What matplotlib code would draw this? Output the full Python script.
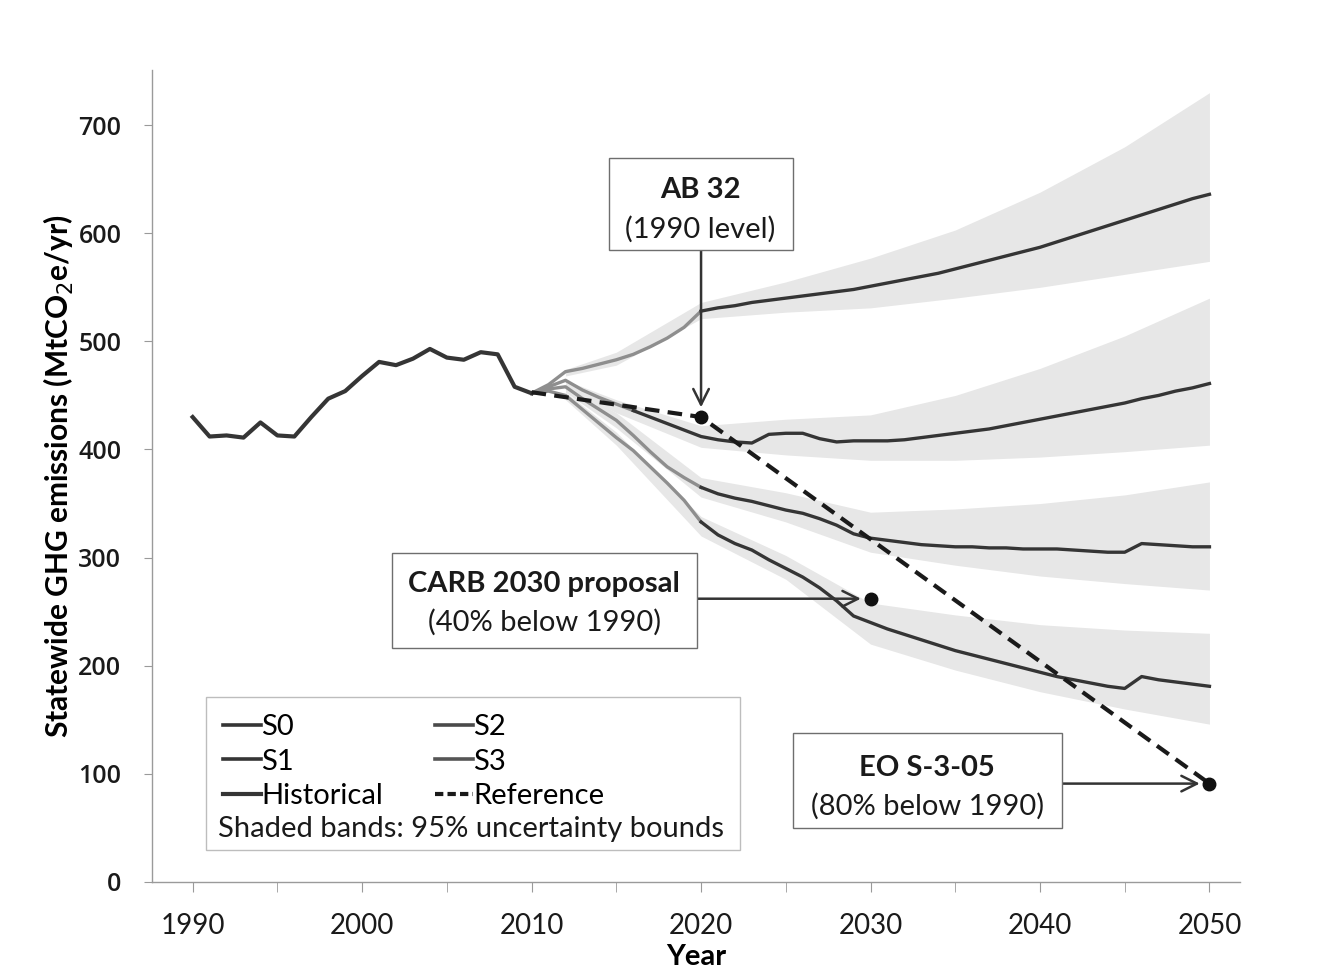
import matplotlib
matplotlib.use("Agg")
import matplotlib.pyplot as plt
from matplotlib.patches import Rectangle
from matplotlib.lines import Line2D

plt.rcParams["font.family"] = ["Lato", "DejaVu Sans"]

# historical emissions, MtCO2e/yr
hist_years = list(range(1990, 2011))
hist_vals = [430, 412, 413, 411, 425, 413, 412, 430, 447, 454, 468,
             481, 478, 484, 493, 485, 483, 490, 488, 458, 452]

# scenario projections
proj_years = list(range(2010, 2051))
s0 = [452, 460, 472, 475, 479, 483, 488, 495, 503, 513, 528,
      531, 533, 536, 538, 540, 542, 544, 546, 548, 551,
      554, 557, 560, 563, 567, 571, 575, 579, 583, 587,
      592, 597, 602, 607, 612, 617, 622, 627, 632, 636]
s1 = [452, 458, 464, 455, 448, 442, 436, 430, 424, 418, 412,
      409, 407, 406, 414, 415, 415, 410, 407, 408, 408,
      408, 409, 411, 413, 415, 417, 419, 422, 425, 428,
      431, 434, 437, 440, 443, 447, 450, 454, 457, 461]
s2 = [452, 456, 458, 447, 437, 427, 413, 398, 384, 374, 365,
      359, 355, 352, 348, 344, 341, 336, 330, 322, 318,
      316, 314, 312, 311, 310, 310, 309, 309, 308, 308,
      308, 307, 306, 305, 305, 313, 312, 311, 310, 310]
s3 = [452, 454, 450, 437, 424, 411, 399, 384, 369, 353, 333,
      321, 313, 307, 298, 290, 282, 272, 260, 246, 240,
      234, 229, 224, 219, 214, 210, 206, 202, 198, 194,
      190, 187, 184, 181, 179, 190, 187, 185, 183, 181]

# 95% uncertainty bounds
band_years = [2012, 2015, 2020, 2025, 2030, 2035, 2040, 2045, 2050]
s0_lo = [468, 478, 521, 527, 531, 540, 550, 562, 574]
s0_hi = [474, 490, 536, 555, 577, 603, 638, 680, 730]
s1_lo = [458, 434, 402, 395, 390, 390, 393, 398, 404]
s1_hi = [464, 446, 422, 428, 432, 450, 475, 505, 540]
s2_lo = [453, 420, 356, 333, 305, 293, 283, 276, 270]
s2_hi = [460, 434, 374, 360, 342, 345, 350, 358, 370]
s3_lo = [446, 404, 320, 280, 220, 196, 176, 160, 146]
s3_hi = [453, 416, 338, 302, 258, 247, 238, 233, 230]

# reference path and policy targets
ref_years = [2010, 2020, 2050]
ref_vals = [453, 430, 91]
target_years = [2020, 2030, 2050]
target_vals = [430, 262, 91]

DARK = "#353535"
LIGHT = "#8e8e8e"
BAND = "#e7e7e7"
FS = 21

fig = plt.figure(figsize=(13.17, 9.72), dpi=100)
ax = fig.add_axes([0.1154, 0.0926, 0.8261, 0.8354])

for lo, hi in [(s0_lo, s0_hi), (s1_lo, s1_hi), (s2_lo, s2_hi), (s3_lo, s3_hi)]:
    ax.fill_between(band_years, lo, hi, color=BAND, lw=0, zorder=1)

# early part of each scenario is lighter in the original
for vals, split in [(s0, 2020), (s1, 2016), (s2, 2020), (s3, 2020)]:
    i = proj_years.index(split)
    ax.plot(proj_years[:i + 1], vals[:i + 1], color=LIGHT, lw=2.4, zorder=3)
    ax.plot(proj_years[i:], vals[i:], color=DARK, lw=2.4, zorder=3)

ax.plot(hist_years, hist_vals, color=DARK, lw=3.0, zorder=4)
ax.plot(ref_years, ref_vals, color="#1a1a1a", lw=3.0, ls=(0, (3.5, 2)), zorder=5)
ax.plot(target_years, target_vals, "o", color="#111111", ms=9, zorder=6)

ax.set_xlim(1987.6, 2051.8)
ax.set_ylim(0, 751)
ax.set_xticks(range(1990, 2051, 10))
ax.set_xticks(range(1990, 2051, 5), minor=True)
ax.set_yticks(range(0, 701, 100))
for s in ["top", "right"]:
    ax.spines[s].set_visible(False)
for s in ["left", "bottom"]:
    ax.spines[s].set_color("#9a9a9a")
    ax.spines[s].set_linewidth(1.0)
ax.tick_params(axis="x", which="both", length=7, color="#9a9a9a", pad=15,
               labelsize=20, labelcolor="#1a1a1a")
ax.tick_params(axis="y", length=6, color="#9a9a9a", pad=16, labelsize=18,
               labelcolor="#1a1a1a")
for lab in ax.get_yticklabels():
    lab.set_family(["Open Sans", "DejaVu Sans"])
    lab.set_fontweight("semibold")
ax.set_xlabel("Year", fontsize=FS, fontweight="bold", labelpad=4)
ax.set_ylabel("Statewide GHG emissions (MtCO$_2$e/yr)", fontsize=21.5,
              fontweight="bold", labelpad=2)


def note_box(x0, x1, y0, y1, title, sub, y_title, y_sub):
    ax.add_patch(Rectangle((x0, y0), x1 - x0, y1 - y0, fill=True, fc="white",
                           ec="#6e6e6e", lw=1.0, zorder=7))
    xc = (x0 + x1) / 2
    ax.text(xc, y_title, title, ha="center", va="center", fontsize=FS,
            fontweight="bold", color="#1a1a1a", zorder=8)
    ax.text(xc, y_sub, sub, ha="center", va="center", fontsize=FS,
            color="#1a1a1a", zorder=8)


arrow = dict(arrowstyle="->", color="#333333", lw=1.8, mutation_scale=28,
             shrinkA=0, shrinkB=7)

note_box(2014.55, 2025.4, 584.4, 669.5, "AB 32", "(1990 level)", 640, 604)
ax.annotate("", xy=(target_years[0], target_vals[0]), xytext=(target_years[0], 584.4),
            arrowprops=arrow, zorder=6)

note_box(2001.75, 2019.74, 216.4, 304.2, "CARB 2030 proposal", "(40% below 1990)",
         275.6, 240.4)
ax.annotate("", xy=(target_years[1], target_vals[1]), xytext=(2019.74, target_vals[1]),
            arrowprops=arrow, zorder=6)

note_box(2025.4, 2041.3, 49.9, 137.8, "EO S-3-05", "(80% below 1990)", 105.4, 70.3)
ax.annotate("", xy=(target_years[2], target_vals[2]), xytext=(2041.3, target_vals[2]),
            arrowprops=arrow, zorder=6)

# legend box
ax.add_patch(Rectangle((1990.8, 29.6), 31.5, 141.5, fill=True, fc="white",
                       ec="#bdbdbd", lw=1.0, zorder=7))
handles = [
    Line2D([], [], color=DARK, lw=2.6),
    Line2D([], [], color=DARK, lw=2.6),
    Line2D([], [], color=DARK, lw=3.0),
    Line2D([], [], color="#4a4a4a", lw=2.6),
    Line2D([], [], color="#555555", lw=2.6),
    Line2D([], [], color="#1a1a1a", lw=3.0, ls=(0, (2.0, 1.0))),
]
labels = ["S0", "S1", "Historical", "S2", "S3", "Reference"]
leg = ax.legend(handles, labels, ncol=2, frameon=False, fontsize=FS,
                handlelength=1.3, handletextpad=0.0, columnspacing=1.8,
                labelspacing=0.3, loc="upper left", borderpad=0,
                bbox_to_anchor=(0.052, 0.225))
leg.set_zorder(8)
ax.text(1991.5, 49, "Shaded bands: 95% uncertainty bounds", fontsize=FS,
        ha="left", va="center", color="#1a1a1a", zorder=8)

fig.savefig("out.png", dpi=100)
